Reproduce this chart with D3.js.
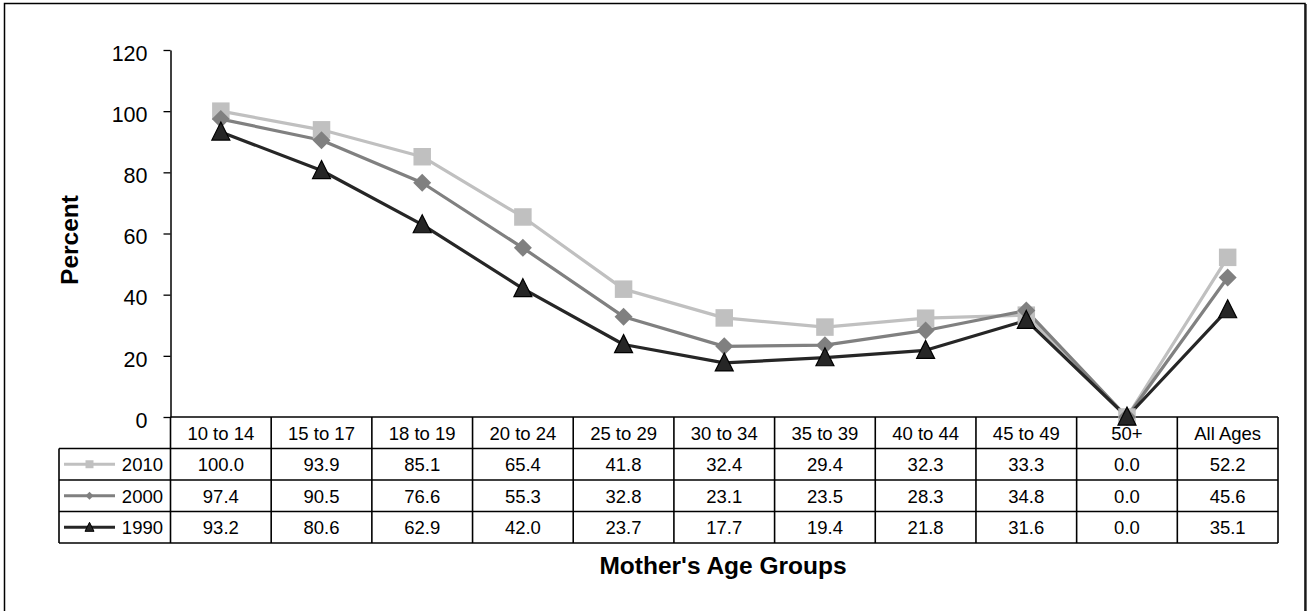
<!DOCTYPE html>
<html><head><meta charset="utf-8">
<script src="https://cdn.jsdelivr.net/npm/d3@7"></script>
<style>body{margin:0;background:#fff}svg{display:block}text{font-family:"Liberation Sans",Arial,sans-serif}</style>
</head><body><svg id="c" width="1307" height="611"></svg>
<script>
const categories = ["10 to 14","15 to 17","18 to 19","20 to 24","25 to 29","30 to 34","35 to 39","40 to 44","45 to 49","50+","All Ages"];
const seriesNames = ["2010","2000","1990"];
const values2010 = [100.0,93.9,85.1,65.4,41.8,32.4,29.4,32.3,33.3,0.0,52.2];
const values2000 = [97.4,90.5,76.6,55.3,32.8,23.1,23.5,28.3,34.8,0.0,45.6];
const values1990 = [93.2,80.6,62.9,42.0,23.7,17.7,19.4,21.8,31.6,0.0,35.1];
const yTicks = [0,20,40,60,80,100,120];

const series = [
  {name:seriesNames[0], values:values2010, color:"#c0c0c0", marker:"square"},
  {name:seriesNames[1], values:values2000, color:"#808080", marker:"diamond"},
  {name:seriesNames[2], values:values1990, color:"#262626", marker:"triangle"}
];

const svg = d3.select("#c");
// outer frame
svg.append("rect").attr("x",4.5).attr("y",3.5).attr("width",1300.5).attr("height",640)
  .attr("fill","none").attr("stroke","#000").attr("stroke-width",1.5);
svg.append("line").attr("x1",1306).attr("x2",1306).attr("y1",4).attr("y2",611).attr("stroke","#000").attr("stroke-width",1.2);

const x = d3.scaleBand().domain(categories).range([170.5,1278]).padding(0);
const y = d3.scaleLinear().domain([0,120]).range([417,50]);

// y axis
const yAxis = svg.append("g").attr("transform","translate(170.5,0)")
  .call(d3.axisLeft(y).tickValues(yTicks).tickSize(7).tickSizeOuter(0).tickPadding(16));
yAxis.select(".domain").attr("stroke","#000").attr("stroke-width",1.5);
yAxis.selectAll(".tick line").attr("stroke","#000").attr("stroke-width",1.3);
yAxis.selectAll(".tick text").attr("font-size",21.5).attr("fill","#000").attr("dy","0.48em");

svg.append("text").attr("transform","translate(78,240) rotate(-90)").attr("text-anchor","middle")
  .attr("font-size",24.5).attr("font-weight","bold").text("Percent");

// table
const rowTops = [417,448.5,480,511.5,543];
const tbl = svg.append("g").attr("stroke","#000").attr("stroke-width",1.6).attr("fill","none");
tbl.append("line").attr("x1",170.5).attr("x2",1278).attr("y1",rowTops[0]).attr("y2",rowTops[0]);
for (let i=1;i<rowTops.length;i++) tbl.append("line").attr("x1",59).attr("x2",1278).attr("y1",rowTops[i]).attr("y2",rowTops[i]);
tbl.append("line").attr("x1",59).attr("x2",59).attr("y1",rowTops[1]).attr("y2",rowTops[4]);
const bounds = categories.map(c=>x(c)).concat([x(categories[categories.length-1])+x.bandwidth()]);
bounds.forEach(b=>tbl.append("line").attr("x1",b).attr("x2",b).attr("y1",rowTops[0]).attr("y2",rowTops[4]));

// header text
svg.append("g").selectAll("text").data(categories).join("text")
  .attr("x",d=>x(d)+x.bandwidth()/2).attr("y",(rowTops[0]+rowTops[1])/2).attr("dy","0.38em")
  .attr("text-anchor","middle").attr("font-size",18.5).attr("fill","#000").text(d=>d);

function markerPath(type,s){
  if(type==="square") return `M${-s/2},${-s/2}h${s}v${s}h${-s}Z`;
  if(type==="diamond") return `M0,${-s/2}L${s/2},0L0,${s/2}L${-s/2},0Z`;
  return `M0,${-s*0.55}L${s/2},${s*0.45}L${-s/2},${s*0.45}Z`;
}

series.forEach((s,si)=>{
  const rowMid = (rowTops[si+1]+rowTops[si+2])/2;
  svg.append("g").selectAll("text").data(s.values).join("text")
    .attr("x",(d,i)=>x(categories[i])+x.bandwidth()/2).attr("y",rowMid).attr("dy","0.38em")
    .attr("text-anchor","middle").attr("font-size",18.5).attr("fill","#000").text(d=>d.toFixed(1));
  svg.append("line").attr("x1",64).attr("x2",115).attr("y1",rowMid).attr("y2",rowMid)
    .attr("stroke",s.color).attr("stroke-width",3);
  svg.append("path").attr("transform",`translate(89.5,${rowMid})`)
    .attr("d",markerPath(s.marker, s.marker==="square"?8:(s.marker==="diamond"?8:9)))
    .attr("fill",s.color).attr("stroke",s.marker==="triangle"?"#000":"none").attr("stroke-width",1);
  svg.append("text").attr("x",163).attr("y",rowMid).attr("dy","0.38em").attr("text-anchor","end")
    .attr("font-size",18.5).attr("fill","#000").text(s.name);
});

const line = d3.line().x((d,i)=>x(categories[i])+x.bandwidth()/2).y(d=>y(d));
series.forEach(s=>{
  svg.append("path").datum(s.values).attr("d",line).attr("fill","none")
    .attr("stroke",s.color).attr("stroke-width",3.2).attr("stroke-linejoin","round");
});
series.forEach(s=>{
  const size = s.marker==="square"?17.5:18;
  svg.append("g").selectAll("path").data(s.values).join("path")
    .attr("transform",(d,i)=>`translate(${x(categories[i])+x.bandwidth()/2},${y(d)})`)
    .attr("d",markerPath(s.marker,size))
    .attr("fill",s.color).attr("stroke",s.marker==="triangle"?"#000":"none").attr("stroke-width",1.2);
});

svg.append("text").attr("x",723).attr("y",574).attr("text-anchor","middle")
  .attr("font-size",24.5).attr("font-weight","bold").attr("fill","#000").text("Mother's Age Groups");
</script></body></html>
